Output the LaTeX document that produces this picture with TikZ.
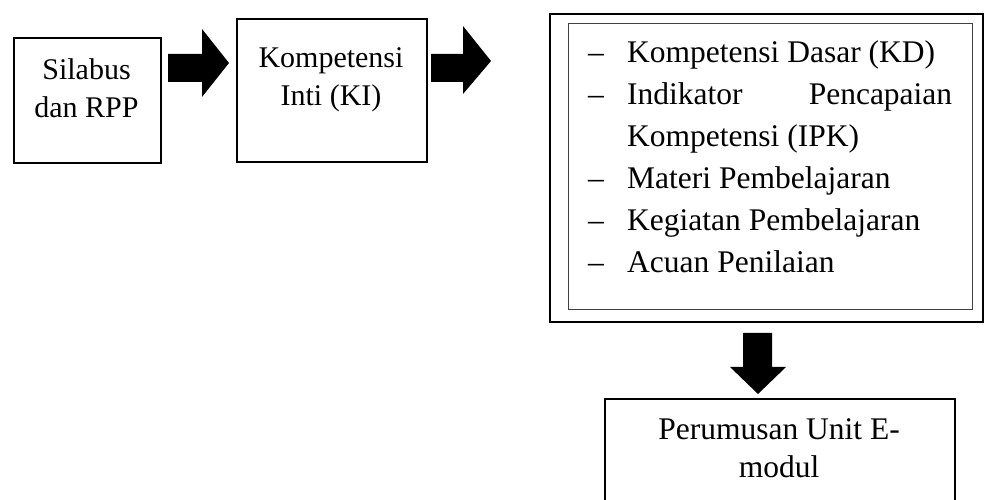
\documentclass[tikz,border=0pt]{standalone}
\usepackage{fontspec}
\setmainfont{Liberation Serif}
\begin{document}
\begin{tikzpicture}[x=1pt,y=1pt,
  box/.style={draw, line width=2pt, inner sep=0pt, anchor=north west},
  innerframe/.style={draw=black!75, line width=1pt, inner sep=0pt, anchor=north west},
  lbl/.style={inner sep=0pt, align=center, font=\fontsize{30}{38.5}\selectfont},
  biglbl/.style={inner sep=0pt, align=center, font=\fontsize{31.5}{38}\selectfont},
  listtext/.style={inner sep=0pt, align=flush left, text width=364pt, font=\fontsize{31.5}{42}\selectfont},
  blockarrow/.style={fill=black}
]
\useasboundingbox (0,0) rectangle (984,500);
\clip (0,0) rectangle (984,500);

% first two boxes (labels anchored at the baseline of their last line)
\node[box, minimum width=147, minimum height=125] (b1) at (13,463) {};
\node[lbl, anchor=base] (t1) at (86.5,382) {Silabus\\dan RPP};
\node[box, minimum width=190, minimum height=143] (b2) at (236,482) {};
\node[lbl, anchor=base] (t2) at (331,394) {Kompetensi\\Inti (KI)};

% double-framed list box
\node[box, minimum width=433, minimum height=308] (b3) at (549,487) {};
\node[innerframe, minimum width=404, minimum height=286] (b3i) at (568,477) {};
\node[listtext, anchor=base west] (t3) at (588,437) {%
  \makebox[39pt][l]{--}Kompetensi Dasar (KD)\\
  \makebox[39pt][l]{--}Indikator\hfill Pencapaian\\
  \hspace*{39pt}Kompetensi (IPK)\\
  \makebox[39pt][l]{--}Materi Pembelajaran\\
  \makebox[39pt][l]{--}Kegiatan Pembelajaran\\
  \makebox[39pt][l]{--}Acuan Penilaian};

% result box (runs past the lower edge)
\node[box, minimum width=350, minimum height=130] (b4) at (604,102) {};
\node[biglbl, anchor=base] (t4) at (779,22) {Perumusan Unit E-\\modul};

% block arrow b1 -> b2
\coordinate (a1s) at (168,446);
\fill[blockarrow] (a1s) -- (202,446) -- (202,471) -- (229,437) -- (202,403) -- (202,418) -- (168,418) -- cycle;
% block arrow b2 -> b3
\coordinate (a2s) at (431,446);
\fill[blockarrow] (a2s) -- (463,446) -- (463,474) -- (491,439) -- (463,406) -- (463,418) -- (431,418) -- cycle;
% block arrow b3 -> b4
\coordinate (a3s) at (743,167);
\fill[blockarrow] (a3s) -- (772,167) -- (772,133) -- (786,133) -- (758,106) -- (730,133) -- (743,133) -- cycle;
\end{tikzpicture}
\end{document}
